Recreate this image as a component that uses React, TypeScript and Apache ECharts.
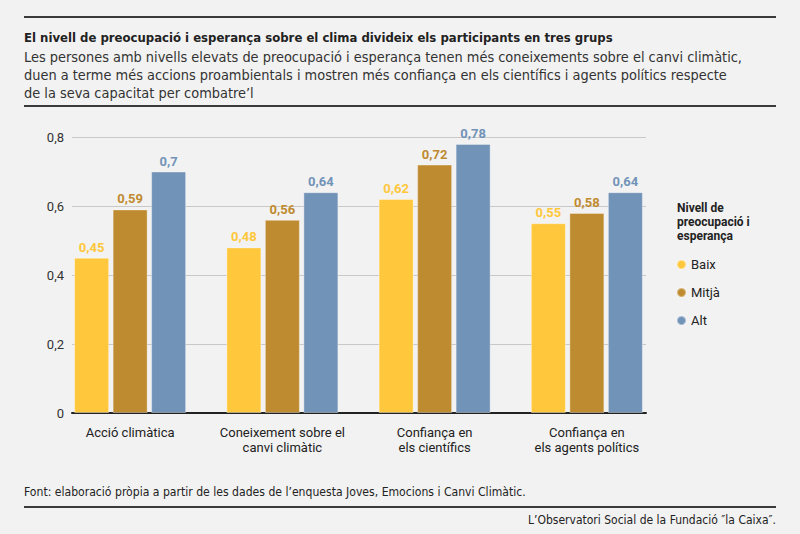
import React, { useEffect, useRef } from "react";
import * as echarts from "echarts";

const categories = [
  "Acció climàtica",
  "Coneixement sobre el\ncanvi climàtic",
  "Confiança en\nels científics",
  "Confiança en\nels agents polítics",
];
const seriesNames = ["Baix", "Mitjà", "Alt"];
const baix = [0.45, 0.48, 0.62, 0.55];
const mitja = [0.59, 0.56, 0.72, 0.58];
const alt = [0.7, 0.64, 0.78, 0.64];
const yTicks = [0, 0.2, 0.4, 0.6, 0.8];

const colors = ["#FFC73B", "#BF8B30", "#7293B8"];
const FONT = "'DejaVu Sans Condensed', 'Liberation Sans Narrow', Roboto, sans-serif";
const FONT2 = "Roboto, 'Liberation Sans', sans-serif";

const fmt = (v: number) => String(v).replace(".", ",");

export default function App() {
  const ref = useRef<HTMLDivElement>(null);
  useEffect(() => {
    if (!ref.current) return;
    const chart = echarts.init(ref.current, null, { renderer: "svg" });
    const values = [baix, mitja, alt];
    chart.setOption({
      animation: false,
      backgroundColor: "#F2F2F2",
      title: [
        {
          text: "El nivell de preocupació i esperança sobre el clima divideix els participants en tres grups",
          left: 24,
          top: 29,
          padding: 0,
          textStyle: { fontFamily: FONT, fontWeight: "bold", fontSize: 13, lineHeight: 16, color: "#222" },
        },
        {
          text:
            "Les persones amb nivells elevats de preocupació i esperança tenen més coneixements sobre el canvi climàtic,\nduen a terme més accions proambientals i mostren més confiança en els científics i agents polítics respecte\nde la seva capacitat per combatre’l",
          left: 24,
          top: 48,
          padding: 0,
          textStyle: { fontFamily: FONT, fontWeight: "normal", fontSize: 14.4, lineHeight: 18, color: "#333" },
        },
        {
          text: "Nivell de\npreocupació i\nesperança",
          left: 677,
          top: 201,
          padding: 0,
          textStyle: { fontFamily: FONT2, fontWeight: "bold", fontSize: 12, lineHeight: 14, color: "#222" },
        },
        {
          text: "Font: elaboració pròpia a partir de les dades de l’enquesta Joves, Emocions i Canvi Climàtic.",
          left: 24,
          top: 484,
          padding: 0,
          textStyle: { fontFamily: FONT, fontWeight: "normal", fontSize: 12.1, lineHeight: 16, color: "#222" },
        },
        {
          text: "L’Observatori Social de la Fundació ″la Caixa″.",
          right: 24,
          top: 512,
          padding: 0,
          textStyle: { fontFamily: FONT, fontWeight: "normal", fontSize: 12, lineHeight: 16, color: "#222" },
        },
      ],
      graphic: [
        { type: "rect", shape: { x: 24, y: 16, width: 752, height: 2 }, style: { fill: "#3a3a3a" } },
        { type: "rect", shape: { x: 24, y: 105, width: 752, height: 2 }, style: { fill: "#3a3a3a" } },
        { type: "rect", shape: { x: 24, y: 506, width: 752, height: 2 }, style: { fill: "#3a3a3a" } },
      ],
      legend: {
        orient: "vertical",
        left: 671,
        top: 253,
        itemGap: 15,
        itemWidth: 9,
        itemHeight: 9,
        icon: "circle",
        data: seriesNames,
        textStyle: { fontFamily: FONT2, fontSize: 13, color: "#222" },
      },
      grid: [
        { left: 72, right: 154, top: 137, bottom: 121 },
        { left: 54, right: 137, top: 137, bottom: 121 },
      ],
      xAxis: [
        {
          type: "value",
          gridIndex: 0,
          min: 0,
          max: 1,
          axisLine: { show: true, onZero: false, lineStyle: { color: "#222", width: 2 } },
          axisTick: { show: false },
          axisLabel: { show: false },
          splitLine: { show: false },
        },
        {
          type: "category",
          gridIndex: 1,
          data: categories,
          axisLine: { show: false },
          axisTick: { show: false },
          axisLabel: {
            interval: 0,
            margin: 12,
            fontFamily: FONT2,
            fontSize: 13,
            lineHeight: 15,
            color: "#222",
          },
        },
      ],
      yAxis: [
        {
          type: "value",
          gridIndex: 0,
          min: yTicks[0],
          max: yTicks[yTicks.length - 1],
          interval: 0.2,
          axisLine: { show: false },
          axisTick: { show: false },
          axisLabel: {
            margin: 8,
            fontFamily: FONT2,
            fontSize: 13,
            color: "#333",
            formatter: (v: number) => fmt(Math.round(v * 10) / 10),
          },
          splitLine: { show: true, lineStyle: { color: "#c8c8c8", width: 1 } },
        },
        {
          type: "value",
          gridIndex: 1,
          min: yTicks[0],
          max: yTicks[yTicks.length - 1],
          show: false,
          splitLine: { show: false },
        },
      ],
      series: seriesNames.map((name, i) => ({
        name,
        type: "bar",
        xAxisIndex: 1,
        yAxisIndex: 1,
        data: values[i],
        barWidth: 35,
        barGap: "10%",
        itemStyle: { color: colors[i], borderColor: "rgba(255,255,255,0.35)", borderWidth: 1 },
        label: {
          show: true,
          position: "top",
          distance: 4,
          fontFamily: FONT2,
          fontWeight: "bold",
          fontSize: 13,
          color: colors[i],
          formatter: (p: any) => fmt(p.value),
        },
      })),
    });
    return () => chart.dispose();
  }, []);
  return (
    <div
      ref={ref}
      style={{ position: "fixed", left: 0, top: 0, width: 800, height: 534 }}
    />
  );
}
